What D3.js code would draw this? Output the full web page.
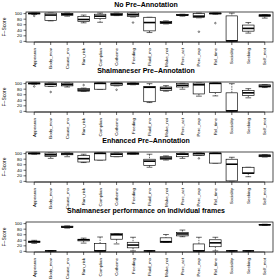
<!DOCTYPE html>
<html>
<head>
<meta charset="utf-8">
<script src="https://cdn.jsdelivr.net/npm/d3@7/dist/d3.min.js"></script>
<style>
body { margin: 0; background: #fff; }
svg { display: block; }
text { font-family: "Liberation Sans", Arial, sans-serif; fill: #000; }
</style>
</head>
<body>
<svg id="chart" width="276" height="280"></svg>
<script>
const frames = ['Appearan', 'Body_mov', 'Cause_mo', 'Run_risk', 'Complian', 'Cotheme', 'Feeding', 'Fluid_mo',
	'Make_noi', 'Perc_act', 'Perc_exp', 'Rel_time', 'Sociality', 'Seeking', 'Self_mot']
const yTickValues = [0, 20, 40, 60, 80, 100]
const titles = ['No Pre–Annotation', 'Shalmaneser Pre–Annotation', 'Enhanced Pre–Annotation',
	'Shalmaneser performance on individual frames']
const yLabel = 'F–Score'

// each box: [lower whisker, q1, median, q3, upper whisker]
const noPre = [[95, 97, 99, 100, 100], [72, 74, 93, 100, 100], [89, 92, 96, 99, 100], [65, 70, 77, 88, 93],
	[67, 80, 89, 96, 100], [91, 92, 95, 99, 100], [86, 88, 94, 100, 100], [30, 36, 66, 85, 85],
	[61, 62, 66, 70, 72], [89, 91, 93, 95, 96], [83, 84, 89, 98, 100], [96, 97, 99, 100, 100],
	[0, 0, 0, 90, 100], [28, 35, 45, 57, 66], [82, 88, 92, 94, 95]]
const noPreOut = [[90], [], [], [], [], [], [66], [], [], [], [33], [64], [], [], []]

const shalPre = [[96, 97, 99, 100, 100], [88, 89, 96, 100, 100], [86, 90, 95, 100, 100], [70, 71, 75, 80, 82],
	[78, 78, 99, 100, 100], [90, 91, 98, 100, 100], [94, 95, 98, 100, 100], [30, 33, 85, 88, 98],
	[71, 74, 81, 86, 91], [78, 86, 92, 98, 99], [53, 61, 94, 100, 100], [54, 66, 99, 100, 100],
	[0, 0, 0, 65, 98], [47, 55, 65, 74, 80], [84, 86, 89, 94, 95]]
const shalPreOut = [[88], [68], [], [93], [], [76], [], [], [], [], [], [], [], [], []]

const enhPre = [[96, 97, 99, 100, 100], [81, 88, 94, 100, 100], [87, 94, 97, 100, 100], [66, 68, 80, 91, 96],
	[75, 75, 99, 100, 100], [87, 87, 96, 100, 100], [96, 96, 99, 100, 100], [49, 56, 71, 78, 96],
	[75, 78, 82, 87, 90], [81, 87, 96, 99, 100], [92, 92, 98, 100, 100], [64, 64, 99, 100, 100],
	[0, 0, 60, 78, 85], [15, 27, 28, 49, 49], [86, 87, 90, 94, 95]]
const enhPreOut = [[], [], [], [], [], [], [], [], [], [], [81], [], [], [], []]

const perf = [[27, 30, 33, 35, 38], [0, 0, 0, 0, 0], [82, 84, 86, 89, 90], [28, 36, 40, 42, 46],
	[0, 0, 0, 26, 50], [25, 42, 58, 62, 62], [0, 11, 21, 31, 49], [0, 0, 0, 0, 0],
	[31, 31, 33, 47, 59], [51, 54, 61, 66, 75], [0, 0, 0, 25, 49], [0, 15, 29, 40, 49],
	[0, 0, 0, 0, 0], [0, 0, 0, 0, 0], [92, 93, 94, 95, 96]]
const perfOut = [[], [], [], [], [], [], [], [], [], [], [], [], [], [], []]

const panels = [
	{ title: titles[0], stats: noPre, out: noPreOut },
	{ title: titles[1], stats: shalPre, out: shalPreOut },
	{ title: titles[2], stats: enhPre, out: enhPreOut },
	{ title: titles[3], stats: perf, out: perfOut }
]

const svg = d3.select('#chart')
const left = 26
const right = 273
const boxH = 30
const top0 = 12
const step = 70

const xScale = d3.scaleBand()
	.domain(frames)
	.range([left, right])
	.padding(0)
const bw = xScale.bandwidth()
const boxW = bw * 0.7

panels.forEach((p, i) => {
	const top = top0 + i * step
	const yScale = d3.scaleLinear().domain([-4, 104]).range([top + boxH, top])

	const g = svg.append('g').attr('class', 'panel')

	// title
	g.append('text')
		.attr('x', 146)
		.attr('y', i === 0 ? 4.5 : top - 11)
		.attr('dy', '0.35em')
		.attr('text-anchor', 'middle')
		.attr('font-weight', 'bold')
		.attr('font-size', '7px')
		.text(p.title)

	// y axis
	const yAxis = d3.axisLeft(yScale).tickValues(yTickValues).tickSize(2.5).tickPadding(1.5)
	g.append('g')
		.attr('transform', `translate(${left}, 0)`)
		.call(yAxis)
		.call(a => a.select('.domain').remove())
		.selectAll('text').attr('font-size', '4.4px')

	g.append('text')
		.attr('transform', `translate(4.5, ${top + boxH / 2}) rotate(-90)`)
		.attr('text-anchor', 'middle')
		.attr('dy', '0.35em')
		.attr('font-size', '5px')
		.text(yLabel)

	// x axis
	const xAxis = d3.axisBottom(xScale).tickSize(3).tickSizeOuter(0)
	const xa = g.append('g')
		.attr('transform', `translate(0, ${top + boxH})`)
		.call(xAxis)
	xa.select('.domain').attr('d', `M${xScale(frames[0]) + bw / 2},0H${xScale(frames[frames.length - 1]) + bw / 2}`)
	xa.selectAll('text')
		.attr('font-size', '4.4px')
		.attr('transform', 'rotate(-90)')
		.attr('text-anchor', 'end')
		.attr('x', -6)
		.attr('y', 0)
		.attr('dy', '0.35em')

	svg.selectAll('.tick line, .domain').attr('stroke', '#000').attr('stroke-width', 0.6)

	// boxes
	const boxes = g.selectAll('g.box')
		.data(p.stats)
		.enter()
		.append('g')
		.attr('class', 'box')
		.attr('transform', (d, j) => `translate(${xScale(frames[j]) + bw / 2}, 0)`)

	boxes.append('path')
		.attr('d', d => `M0,${yScale(d[4])}V${yScale(d[3])}M0,${yScale(d[1])}V${yScale(d[0])}`)
		.attr('stroke', '#000')
		.attr('stroke-width', 0.6)
		.attr('stroke-dasharray', '1.5,1')
		.attr('fill', 'none')

	boxes.append('path')
		.attr('d', d => `M${-boxW / 4},${yScale(d[4])}h${boxW / 2}M${-boxW / 4},${yScale(d[0])}h${boxW / 2}`)
		.attr('stroke', '#000')
		.attr('stroke-width', 0.6)

	boxes.append('rect')
		.attr('x', -boxW / 2)
		.attr('width', boxW)
		.attr('y', d => yScale(d[3]))
		.attr('height', d => yScale(d[1]) - yScale(d[3]))
		.attr('fill', '#fff')
		.attr('stroke', '#000')
		.attr('stroke-width', 0.65)

	boxes.append('line')
		.attr('x1', -boxW / 2)
		.attr('x2', boxW / 2)
		.attr('y1', d => yScale(d[2]))
		.attr('y2', d => yScale(d[2]))
		.attr('stroke', '#000')
		.attr('stroke-width', 1.6)

	boxes.each(function(d, j) {
		d3.select(this).selectAll('circle')
			.data(p.out[j])
			.enter()
			.append('circle')
			.attr('cx', 0)
			.attr('cy', v => yScale(v))
			.attr('r', 0.8)
			.attr('fill', 'none')
			.attr('stroke', '#000')
			.attr('stroke-width', 0.5)
	})

	// plot frame
	g.append('rect')
		.attr('x', left)
		.attr('y', top)
		.attr('width', right - left)
		.attr('height', boxH)
		.attr('fill', 'none')
		.attr('stroke', '#000')
		.attr('stroke-width', 0.7)
})
</script>
</body>
</html>
